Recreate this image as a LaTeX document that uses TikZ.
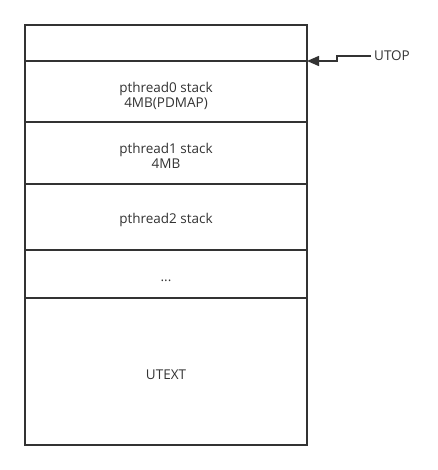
\documentclass[tikz,border=0pt]{standalone}
\usepackage{fontspec}
\setmainfont{Open Sans}
\usepackage{xcolor}
\usepackage{tikz}
\usetikzlibrary{arrows.meta,positioning}

\definecolor{linegray}{HTML}{333333}

\begin{document}
\begin{tikzpicture}[x=1pt,y=-1pt,
		slot/.style={draw=linegray, line width=2pt, outer sep=0pt, inner sep=0pt,
			minimum width=282pt, align=center, text=linegray,
			font=\fontsize{13.5}{15}\selectfont,
			execute at begin node={\rule{0pt}{16pt}}},
		twoline/.style={text height=35pt, text depth=3.5pt}]
		\useasboundingbox (0,0) rectangle (437,470);

		% memory layout, top to bottom
		\node[slot, minimum height=36pt, anchor=north west] (blank) at (25,25) {};
		\node[slot, twoline, minimum height=61pt, below=0pt of blank] (stack0) {pthread0 stack\\4MB(PDMAP)};
		\node[slot, twoline, minimum height=62pt, below=0pt of stack0] (stack1) {pthread1 stack\\4MB};
		\node[slot, minimum height=66pt, below=0pt of stack1] (stack2) {pthread2 stack};
		\node[slot, minimum height=48pt, below=0pt of stack2] (dots) {...};
		\node[slot, minimum height=147pt, below=0pt of dots] (utext) {UTEXT};

		% UTOP marker
		\node[anchor=west, inner sep=0pt, inner xsep=3pt, text=linegray, font=\fontsize{13.5}{16}\selectfont] (utop) at (371,56) {UTOP};
		\draw[linegray, line width=1.5pt, -{Triangle[length=12pt,width=10pt]}]
			(utop.west) -- ++(-34,0) |- (stack0.north east);
	\end{tikzpicture}
\end{document}
